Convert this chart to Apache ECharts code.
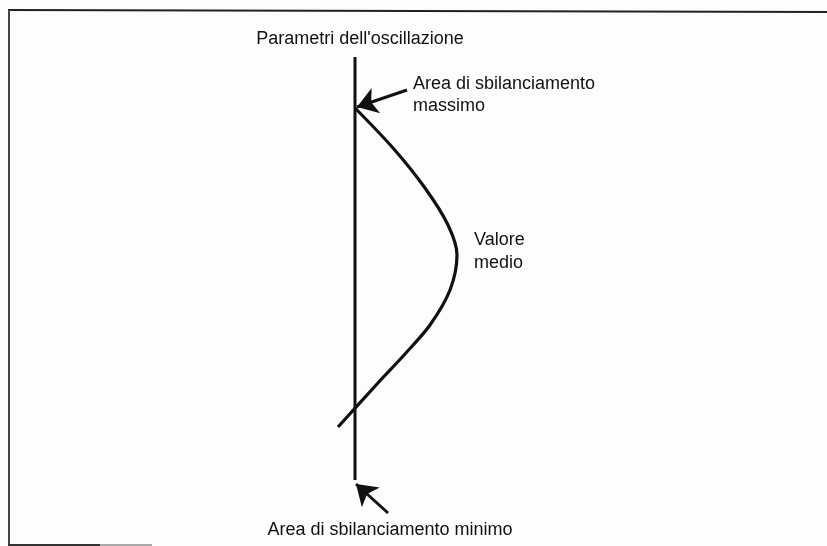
<!DOCTYPE html>
<html>
<head>
<meta charset="utf-8">
<script src="https://cdn.jsdelivr.net/npm/echarts@6/dist/echarts.min.js"></script>
<style>
html,body{margin:0;padding:0;background:#fdfdfd;}
#c{width:827px;height:546px;}
</style>
</head>
<body>
<div id="c"></div>
<script>
// Curve: deviation (x) versus oscillation parameter (y)
const curveX = [0.00, 0.38, 0.70, 0.93, 1.02, 0.95, 0.75, 0.50, 0.22, -0.17];
const curveY = [4.38, 3.98, 3.58, 3.21, 2.91, 2.56, 2.21, 1.92, 1.62, 1.19];
// Vertical axis of the parameters
const axisX = [0, 0];
const axisY = [4.89, 0.66];
// Arrows: [tailX, tailY, tipX, tipY]
const arrowMax = [0.52, 4.56, 0.02, 4.39];
const arrowMin = [0.33, 0.33, 0.01, 0.62];
// Texts
const titleText = "Parametri dell'oscillazione";
const maxLabel = ["Area di sbilanciamento", "massimo"];
const meanLabel = ["Valore", "medio"];
const minLabel = "Area di sbilanciamento minimo";

const chart = echarts.init(document.getElementById('c'), null, {renderer: 'canvas'});
const ink = '#111';
const font = '"Liberation Sans", Arial, Helvetica, sans-serif';
const txt = (x, y, t, align) => ({
  type: 'text', x: x, y: y,
  style: {text: t, fill: ink, font: '18px ' + font, textAlign: align || 'left', textVerticalAlign: 'middle'}
});
chart.setOption({
  backgroundColor: '#fdfdfd',
  animation: false,
  grid: {left: 0, right: 0, top: 0, bottom: 0},
  xAxis: {type: 'value', min: -3.55, max: 4.72, show: false},
  yAxis: {type: 'value', min: 0, max: 5.46, show: false},
  series: [
    {
      type: 'line', data: axisX.map((x, i) => [x, axisY[i]]),
      symbol: 'none', lineStyle: {color: ink, width: 3}
    },
    {
      type: 'line', data: curveX.map((x, i) => [x, curveY[i]]),
      symbol: 'none', smooth: 0.3, lineStyle: {color: ink, width: 3.2}
    },
    {
      type: 'lines', coordinateSystem: 'cartesian2d',
      symbol: ['none', 'arrow'], symbolSize: [0, 20],
      lineStyle: {color: ink, width: 3, opacity: 1},
      data: [arrowMax, arrowMin].map(a => ({coords: [[a[0], a[1]], [a[2], a[3]]]}))
    }
  ],
  graphic: [
    {type: 'line', shape: {x1: 8, y1: 10, x2: 827, y2: 12}, style: {stroke: '#222', lineWidth: 2}},
    {type: 'line', shape: {x1: 9, y1: 10, x2: 9, y2: 546}, style: {stroke: '#444', lineWidth: 2}},
    {type: 'line', shape: {x1: 8, y1: 545, x2: 100, y2: 545}, style: {stroke: '#333', lineWidth: 2}},
    {type: 'line', shape: {x1: 100, y1: 545, x2: 152, y2: 545}, style: {stroke: '#aaa', lineWidth: 2}},
    txt(360, 39, titleText, 'center'),
    txt(413, 84, maxLabel[0]),
    txt(413, 106, maxLabel[1]),
    txt(474, 240, meanLabel[0]),
    txt(474, 263, meanLabel[1]),
    txt(390, 530, minLabel, 'center')
  ]
});
</script>
</body>
</html>
